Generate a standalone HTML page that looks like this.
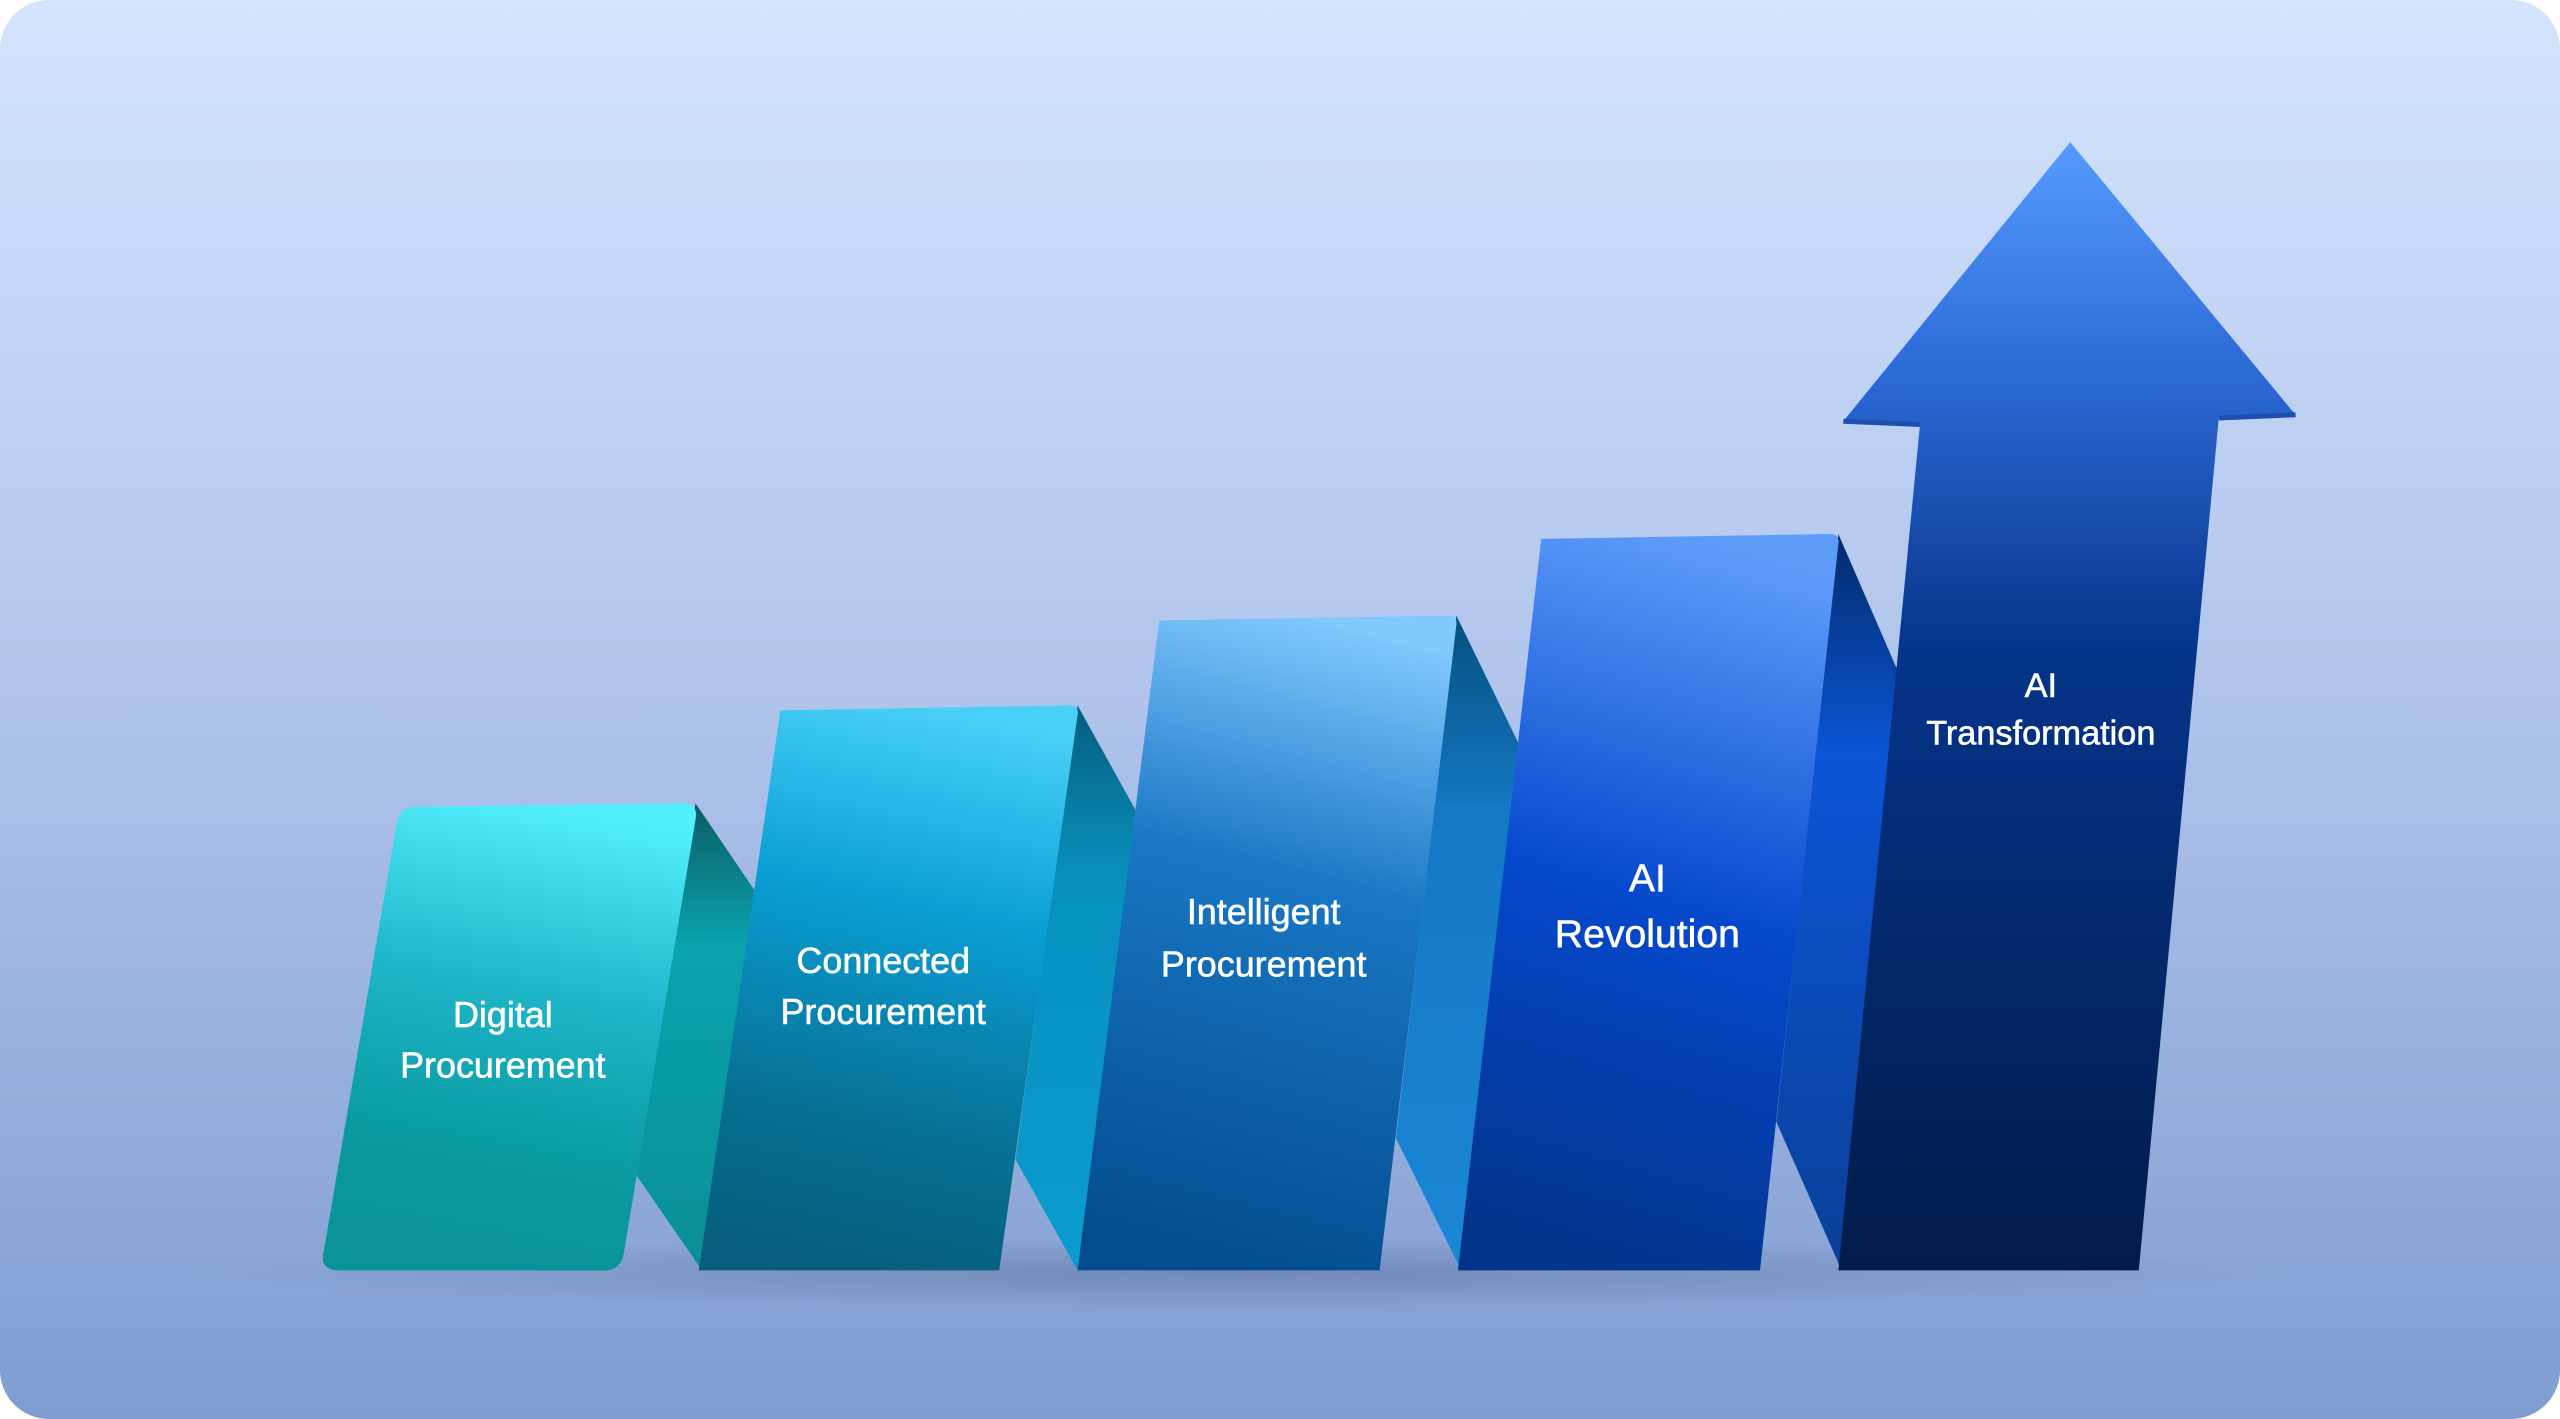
<!DOCTYPE html>
<html><head><meta charset="utf-8"><style>
html,body{margin:0;padding:0;background:#fff;}
svg{display:block;}
text{font-family:"Liberation Sans",Arial,sans-serif;fill:#fff;text-anchor:middle;stroke:#fff;stroke-width:0.35;}
</style></head><body>
<svg width="2560" height="1419" viewBox="0 0 1568 869" preserveAspectRatio="none" xmlns="http://www.w3.org/2000/svg">
<defs>
<linearGradient id="bg" x1="0" y1="0" x2="0" y2="1">
<stop offset="0" stop-color="#d4e4fd"/><stop offset="0.5" stop-color="#afc3eb"/><stop offset="1" stop-color="#7f9cd0"/>
</linearGradient>
<radialGradient id="sh" cx="0.5" cy="0.5" r="0.5"><stop offset="0" stop-color="#5a6f9a" stop-opacity="0.5"/><stop offset="1" stop-color="#5a6f9a" stop-opacity="0"/></radialGradient>
<linearGradient id="g1" x1="0.6" y1="0" x2="0.45" y2="1"><stop offset="0" stop-color="#52effd"/><stop offset="0.4" stop-color="#1db5c8"/><stop offset="0.75" stop-color="#0a9aa0"/><stop offset="1" stop-color="#0a9399"/></linearGradient>
<linearGradient id="s1" x1="0" y1="0" x2="0" y2="1"><stop offset="0" stop-color="#0a5c66"/><stop offset="0.3" stop-color="#0aa3ad"/><stop offset="1" stop-color="#0a8e96"/></linearGradient>
<linearGradient id="g2" x1="0.6" y1="0" x2="0.45" y2="1"><stop offset="0" stop-color="#48d0f8"/><stop offset="0.35" stop-color="#0a9ed3"/><stop offset="0.75" stop-color="#066f93"/><stop offset="1" stop-color="#065e7c"/></linearGradient>
<linearGradient id="s2" x1="0" y1="0" x2="0" y2="1"><stop offset="0" stop-color="#065d7e"/><stop offset="0.3" stop-color="#0790bd"/><stop offset="1" stop-color="#0b9bd0"/></linearGradient>
<linearGradient id="g3" x1="0.6" y1="0" x2="0.45" y2="1"><stop offset="0" stop-color="#80c8fd"/><stop offset="0.4" stop-color="#1976c4"/><stop offset="1" stop-color="#034d8e"/></linearGradient>
<linearGradient id="s3" x1="0" y1="0" x2="0" y2="1"><stop offset="0" stop-color="#044f7d"/><stop offset="0.3" stop-color="#1479c4"/><stop offset="1" stop-color="#1a86d6"/></linearGradient>
<linearGradient id="g4" x1="0.6" y1="0" x2="0.45" y2="1"><stop offset="0" stop-color="#5e9cfb"/><stop offset="0.5" stop-color="#0548cc"/><stop offset="1" stop-color="#02348c"/></linearGradient>
<linearGradient id="s4" x1="0" y1="0" x2="0" y2="1"><stop offset="0" stop-color="#032a6a"/><stop offset="0.3" stop-color="#0b55d6"/><stop offset="1" stop-color="#0a3f98"/></linearGradient>
<linearGradient id="g5" x1="0" y1="0" x2="0" y2="1"><stop offset="0" stop-color="#559bfd"/><stop offset="0.2" stop-color="#2d6bd8"/><stop offset="0.45" stop-color="#05348a"/><stop offset="1" stop-color="#021b4a"/></linearGradient>
</defs>
<rect x="0" y="0" width="1568" height="869" rx="30" fill="url(#bg)"/>
<ellipse cx="760" cy="780" rx="640" ry="22" fill="url(#sh)"/>
<polygon points="426,492 462,545 430,778 390,720" fill="url(#s1)"/>
<polygon points="660,432 696,497 660,778 622,710" fill="url(#s2)"/>
<polygon points="892,377 930,455 895,778 855,697" fill="url(#s3)"/>
<polygon points="1126,327 1162,410 1128,778 1088,687" fill="url(#s4)"/>
<path d="M255,494 L418,492 Q428,492 426,502 L382,768 Q380,778 370,778 L208,778 Q196,778 198,768 L243,504 Q245,494 255,494 Z" fill="url(#g1)"/>
<path d="M478,435 L655,432 Q661,432 660,438 L612,778 L428,778 Z" fill="url(#g2)"/>
<path d="M710,380 L887,377 Q893,377 892,383 L845,778 L660,778 Z" fill="url(#g3)"/>
<path d="M944,330 L1121,327 Q1127,327 1126,333 L1078,778 L893,778 Z" fill="url(#g4)"/>
<polygon points="1268,87 1406,254 1359,256 1310,778 1126,778 1176,260 1129,258" fill="url(#g5)"/>
<path d="M1129,258 L1176,260 M1359,256 L1406,254" stroke="#1d4fb0" stroke-width="3"/>
<text x="308" y="629" font-size="22">Digital</text>
<text x="308" y="660" font-size="22">Procurement</text>
<text x="541" y="596" font-size="22">Connected</text>
<text x="541" y="627" font-size="22">Procurement</text>
<text x="774" y="566" font-size="22">Intelligent</text>
<text x="774" y="598" font-size="22">Procurement</text>
<text x="1009" y="546" font-size="24">AI</text>
<text x="1009" y="580" font-size="24">Revolution</text>
<text x="1250" y="427" font-size="21">AI</text>
<text x="1250" y="456" font-size="21">Transformation</text>
</svg>
</body></html>
